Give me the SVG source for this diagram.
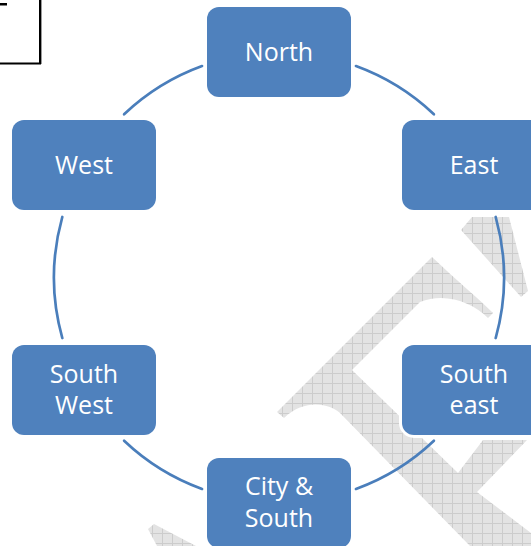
<svg xmlns="http://www.w3.org/2000/svg" width="531" height="546" viewBox="0 0 531 546">
<defs>
<pattern id="grid" patternUnits="userSpaceOnUse" width="10" height="10" x="2" y="3">
<rect width="10" height="10" fill="#e3e3e3"/>
<path d="M0 0.5H10M0.5 0V10" stroke="#cccccc" stroke-width="1" fill="none"/>
</pattern>
<style>
.node rect{fill:#4F81BD;stroke:#ffffff;stroke-width:6;paint-order:stroke}
.node text{fill:#ffffff;font-family:"Open Sans","Noto Sans",sans-serif;font-size:25px;text-anchor:middle}
.conn path{fill:none;stroke:#4A7EBB;stroke-width:2.7;stroke-linecap:round}
.wm{fill:url(#grid)}
</style>
</defs>
<rect width="531" height="546" fill="#ffffff"/>
<g id="frame">
<rect x="-3" y="-3" width="43" height="66.5" fill="#ffffff" stroke="#000000" stroke-width="2"/>
<line x1="41.5" y1="0" x2="41.5" y2="64" stroke="#9a9a9a" stroke-width="1"/>
<rect x="0" y="3" width="7" height="2.5" fill="#000000"/>
</g>
<g id="watermark">
<path class="wm" d="M277 412 L432 257 C455 279 478 298 493 313 L488 318 C472 302 445 292 420 302 L352 370 L458 473 L483 440 L527 440 L477 492 L531 533 L531 546 L470 546 L340 413 C330 404 305 398 284 418 Z"/>
<path class="wm" d="M461 230 L472 217 L509 217 L528 291 L521 297 Z"/>
<path class="wm" d="M148 529 L154 524 L196 546 L157 546 Z"/>
</g>
<g id="connectors" class="conn">
<path d="M355.95 66.07 A225 225 0 0 1 433.9 114.3"/>
<path d="M495.7 217 A225 225 0 0 1 495.7 338"/>
<path d="M433.9 440.7 A225 225 0 0 1 355.95 488.93"/>
<path d="M202.05 488.93 A225 225 0 0 1 124.1 440.7"/>
<path d="M62.3 338 A225 225 0 0 1 62.3 217"/>
<path d="M124.1 114.3 A225 225 0 0 1 202.05 66.07"/>
</g>
<g id="north" class="node">
<rect x="207" y="7" width="144" height="90" rx="12"/>
<text x="279" y="61">North</text>
</g>
<g id="east" class="node">
<rect x="402" y="120" width="144" height="90" rx="12"/>
<text x="474" y="174">East</text>
</g>
<g id="west" class="node">
<rect x="12" y="120" width="144" height="90" rx="12"/>
<text x="84" y="174">West</text>
</g>
<g id="southwest" class="node">
<rect x="12" y="345" width="144" height="90" rx="12"/>
<text x="84" y="383">South<tspan x="84" dy="31">West</tspan></text>
</g>
<g id="southeast" class="node">
<rect x="402" y="345" width="144" height="90" rx="12"/>
<text x="474" y="383">South<tspan x="474" dy="31">east</tspan></text>
</g>
<g id="citysouth" class="node">
<rect x="207" y="458" width="144" height="90" rx="12"/>
<text x="279" y="495">City &amp;<tspan x="279" dy="32">South</tspan></text>
</g>
</svg>
